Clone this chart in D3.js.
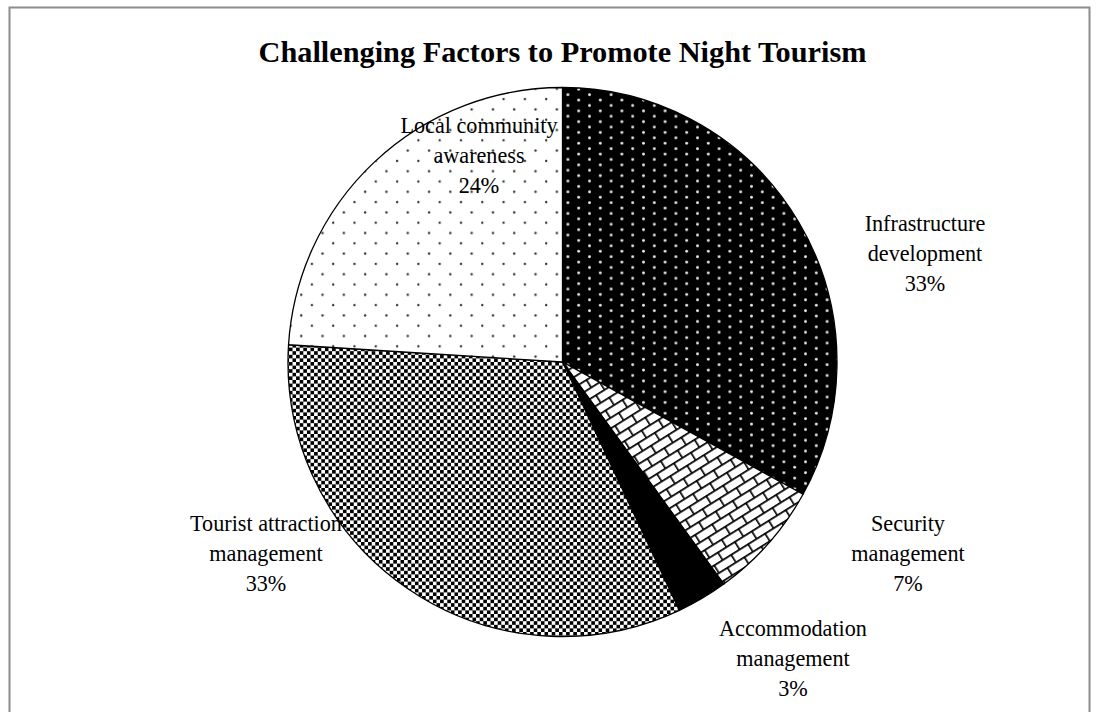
<!DOCTYPE html>
<html>
<head>
<meta charset="utf-8">
<script src="https://cdn.jsdelivr.net/npm/d3@7"></script>
<style>
  html, body { margin: 0; padding: 0; background: #fff; }
  svg { display: block; }
  text { font-family: "Liberation Serif", "Times New Roman", serif; fill: #000; }
</style>
</head>
<body>
<svg id="chart" width="1096" height="712"></svg>
<script>
// Survey shares of challenging factors (percent)
const categories = [
  "Infrastructure development",
  "Security management",
  "Accommodation management",
  "Tourist attraction management",
  "Local community awareness"
];
const values = [33, 7, 3, 33, 24];
const labelLines = [
  ["Infrastructure", "development", "33%"],
  ["Security", "management", "7%"],
  ["Accommodation", "management", "3%"],
  ["Tourist attraction", "management", "33%"],
  ["Local community", "awareness", "24%"]
];
const titleText = "Challenging Factors to Promote Night Tourism";

// Layout
const W = 1096, H = 712;
const cx = 562.5, cy = 362, R = 274.5;
const labelPos = [
  [925, 223], [908, 523], [793, 628], [266, 523], [479, 125]
];
const lineGap = 30;

const svg = d3.select("#chart");
const defs = svg.append("defs");

// Fill patterns for each slice
// 1: black with staggered white dots
const p1 = defs.append("pattern").attr("id", "pat0")
  .attr("patternUnits", "userSpaceOnUse").attr("width", 21.6).attr("height", 10.8);
p1.append("rect").attr("width", 21.6).attr("height", 10.8).attr("fill", "#000");
p1.append("circle").attr("cx", 5.4).attr("cy", 2.7).attr("r", 1.45).attr("fill", "#e6e6e6");
p1.append("circle").attr("cx", 16.2).attr("cy", 8.1).attr("r", 1.45).attr("fill", "#e6e6e6");

// 2: diagonal brick
const p2 = defs.append("pattern").attr("id", "pat1")
  .attr("patternUnits", "userSpaceOnUse").attr("width", 20).attr("height", 18)
  .attr("patternTransform", "rotate(-32)");
p2.append("rect").attr("width", 20).attr("height", 18).attr("fill", "#fff");
const bp = "M0,0.8H20 M0,9.8H20 M0.8,0.8V9.8 M10.8,9.8V18.8";
p2.append("path").attr("d", bp).attr("stroke", "#000").attr("stroke-width", 1.7).attr("fill", "none");

// 3: solid black
const p3 = defs.append("pattern").attr("id", "pat2")
  .attr("patternUnits", "userSpaceOnUse").attr("width", 4).attr("height", 4);
p3.append("rect").attr("width", 4).attr("height", 4).attr("fill", "#000");

// 4: fine checkerboard
const cs = 3.6;
const p4 = defs.append("pattern").attr("id", "pat3")
  .attr("patternUnits", "userSpaceOnUse").attr("width", cs * 2).attr("height", cs * 2);
p4.append("rect").attr("width", cs * 2).attr("height", cs * 2).attr("fill", "#fff");
p4.append("rect").attr("width", cs).attr("height", cs).attr("fill", "#000");
p4.append("rect").attr("x", cs).attr("y", cs).attr("width", cs).attr("height", cs).attr("fill", "#000");

// 5: white with sparse dark dots
const p5 = defs.append("pattern").attr("id", "pat4")
  .attr("patternUnits", "userSpaceOnUse").attr("width", 21.3).attr("height", 20.6);
p5.append("rect").attr("width", 21.3).attr("height", 20.6).attr("fill", "#fff");
p5.append("circle").attr("cx", 5).attr("cy", 5).attr("r", 1.2).attr("fill", "#333");
p5.append("circle").attr("cx", 15.65).attr("cy", 15.3).attr("r", 1.2).attr("fill", "#333");

// Frame
svg.append("rect")
  .attr("x", 9.5).attr("y", 7.5).attr("width", 1080).attr("height", 720)
  .attr("fill", "none").attr("stroke", "#8c8c8c").attr("stroke-width", 2);

// Title
svg.append("text")
  .attr("x", cx).attr("y", 62)
  .attr("text-anchor", "middle")
  .attr("font-size", 30.3).attr("font-weight", "bold")
  .text(titleText);

// Pie
const pie = d3.pie().sort(null).value(d => d)
  .startAngle(0).endAngle(2 * Math.PI);
const arc = d3.arc().innerRadius(0).outerRadius(R);
const arcs = pie(values);

const g = svg.append("g").attr("transform", `translate(${cx},${cy})`);
g.selectAll("path.slice")
  .data(arcs)
  .join("path")
  .attr("class", "slice")
  .attr("d", arc)
  .attr("fill", (d, i) => `url(#pat${i})`)
  .attr("stroke", "#000")
  .attr("stroke-width", 1.3)
  .attr("stroke-linejoin", "round");

// Labels
const lg = svg.append("g");
categories.forEach((c, i) => {
  const t = lg.append("text")
    .attr("text-anchor", "middle")
    .attr("font-size", 22.2)
    .attr("x", labelPos[i][0])
    .attr("y", labelPos[i][1]);
  labelLines[i].forEach((ln, j) => {
    t.append("tspan")
      .attr("x", labelPos[i][0])
      .attr("y", labelPos[i][1] + j * lineGap)
      .attr("dy", "0.35em")
      .text(ln);
  });
});
</script>
</body>
</html>
